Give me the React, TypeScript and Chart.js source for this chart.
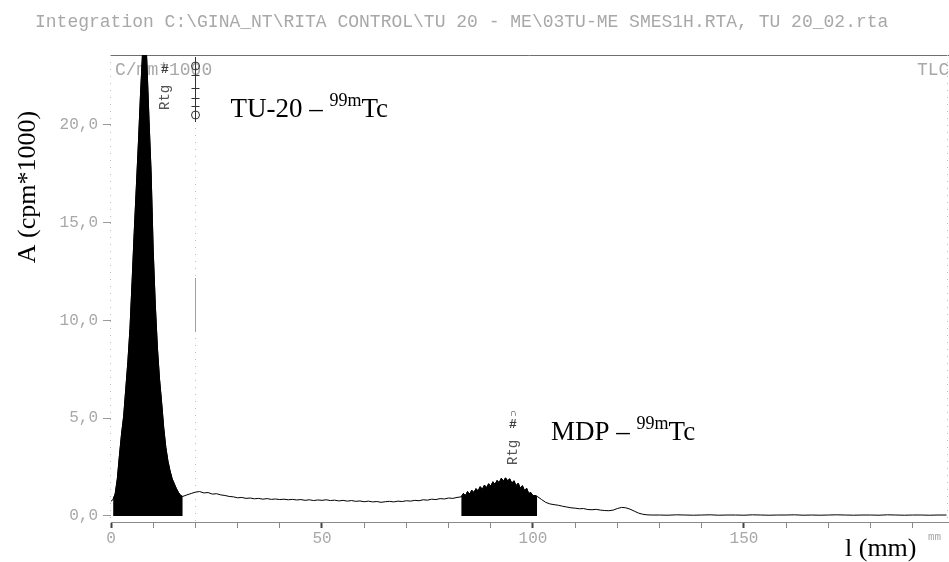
import React, { useEffect, useRef } from "react";
import { Chart, registerables } from "chart.js";

Chart.register(...registerables);

// Radio-TLC scan, counts in cpm*1000 along the plate (mm)
const range = (start: number, end: number, step: number) =>
  Array.from({ length: Math.round((end - start) / step) + 1 }, (_, i) => +(start + i * step).toFixed(2));

const startPeakMm = range(0, 17, 0.5);
const startPeakCounts = [
  0.75, 0.85, 1.15, 1.9, 3.1, 4.2, 5.1, 6.5, 7.9, 9.6,
  12.0, 14.5, 16.8, 19.1, 21.6, 23.8, 25.5, 23.2, 20.3, 17.6,
  13.6, 10.8, 8.6, 7.0, 5.8, 4.5, 3.5, 2.8, 2.3, 1.9,
  1.65, 1.4, 1.2, 1.05, 1.0,
];

const plateauMm = range(18, 82, 1);
const plateauCounts = [
  1.08, 1.15, 1.22, 1.25, 1.18, 1.2, 1.12, 1.14, 1.08, 1.05,
  1.0, 0.98, 0.93, 0.95, 0.9, 0.92, 0.88, 0.9, 0.86, 0.89,
  0.85, 0.87, 0.84, 0.86, 0.83, 0.85, 0.82, 0.84, 0.8, 0.83,
  0.79, 0.82, 0.8, 0.83, 0.79, 0.81, 0.77, 0.8, 0.76, 0.79,
  0.75, 0.77, 0.73, 0.76, 0.72, 0.74, 0.7, 0.73, 0.75, 0.72,
  0.76, 0.74, 0.78, 0.76, 0.8, 0.78, 0.83, 0.81, 0.86, 0.84,
  0.89, 0.87, 0.92, 0.9, 0.95,
];

const mdpPeakMm = range(83, 101, 0.5);
const mdpPeakCounts = [
  0.98, 1.15, 1.05, 1.25, 1.12, 1.32, 1.2, 1.4, 1.28, 1.5,
  1.36, 1.58, 1.45, 1.65, 1.52, 1.75, 1.62, 1.82, 1.7, 1.93,
  1.78, 1.95, 1.8, 1.9, 1.68, 1.8, 1.55, 1.68, 1.42, 1.55,
  1.3, 1.42, 1.15, 1.2, 1.03, 1.05, 1.0,
];

const tailMm = range(102, 128, 1);
const tailCounts = [
  0.85, 0.7, 0.62, 0.58, 0.55, 0.5, 0.46, 0.42, 0.4, 0.37,
  0.38, 0.33, 0.32, 0.34, 0.3, 0.28, 0.27, 0.3, 0.38, 0.44,
  0.42, 0.35, 0.25, 0.15, 0.09, 0.06, 0.05,
];

const frontMm = range(130, 198, 2);
const frontCounts = [
  0.05, 0.04, 0.06, 0.05, 0.04, 0.05, 0.06, 0.04, 0.05, 0.05,
  0.04, 0.06, 0.05, 0.04, 0.05, 0.05, 0.06, 0.04, 0.05, 0.04,
  0.05, 0.06, 0.05, 0.04, 0.05, 0.05, 0.04, 0.06, 0.05, 0.04,
  0.05, 0.05, 0.04, 0.05, 0.05,
];

// integration windows (mm) shaded under the trace
const integrationWindowsMm: [number, number][] = [
  [0.5, 17],
  [83, 101],
];

const xTickValues = range(0, 190, 10);
const xLabelValues = [0, 50, 100, 150];
const yTickValues = [0, 5, 10, 15, 20];
const xMaxMm = 198.6;
const yMin = -0.307;
const yMax = 23.58;

const headerText =
  "Integration C:\\GINA_NT\\RITA CONTROL\\TU 20 - ME\\03TU-ME SMES1H.RTA, TU 20_02.rta";
const unitText = "C/mm*1000";
const plateText = "TLC";
const yTitle = "A (cpm*1000)";
const xTitle = "l (mm)";
const xUnit = "mm";
const peakLabels = [
  { prefix: "TU-20 \u2013 ", mm: 28.3, value: 20.4 },
  { prefix: "MDP \u2013 ", mm: 104.3, value: 3.9 },
];
const isotope = "99m";
const element = "Tc";
// peak-tag marker positions (mm)
const tagMarkersMm = [12.8, 95.3];
const originMarkerMm = 20;

const MONO = '"Liberation Mono", "DejaVu Sans Mono", monospace';
const SERIF = '"Liberation Serif", "DejaVu Serif", serif';
const SCAN_GREY = "#a8a8a8";

const trace = [
  ...startPeakMm.map((x, i) => ({ x, y: startPeakCounts[i] })),
  ...plateauMm.map((x, i) => ({ x, y: plateauCounts[i] })),
  ...mdpPeakMm.map((x, i) => ({ x, y: mdpPeakCounts[i] })),
  ...tailMm.map((x, i) => ({ x, y: tailCounts[i] })),
  ...frontMm.map((x, i) => ({ x, y: frontCounts[i] })),
];

const vline = (ctx: CanvasRenderingContext2D, x: number, y0: number, y1: number) => {
  ctx.beginPath();
  ctx.moveTo(x, y0);
  ctx.lineTo(x, y1);
  ctx.stroke();
};

const annotations = {
  id: "annotations",
  beforeDatasetsDraw(chart: any) {
    const { ctx, chartArea: a, scales } = chart;
    const x = scales.x;
    ctx.save();
    ctx.strokeStyle = "#6f6f6f";
    ctx.lineWidth = 1;
    ctx.beginPath();
    ctx.moveTo(a.left - 1, a.top + 0.5);
    ctx.lineTo(a.right, a.top + 0.5);
    ctx.stroke();

    ctx.strokeStyle = "#bcbcbc";
    ctx.setLineDash([1, 6]);
    vline(ctx, a.left - 0.5, a.top, a.bottom);
    vline(ctx, a.right - 1.5, a.top, a.bottom);
    const ox = Math.round(x.getPixelForValue(originMarkerMm)) + 0.5;
    vline(ctx, ox, 128, a.bottom);
    ctx.setLineDash([]);
    ctx.strokeStyle = "#a0a0a0";
    vline(ctx, ox, 278, 332);

    ctx.font = `18px ${MONO}`;
    ctx.fillStyle = SCAN_GREY;
    ctx.textBaseline = "middle";
    ctx.textAlign = "left";
    ctx.fillText(unitText, a.left + 4, 70);
    ctx.fillText(plateText, a.right - 32, 70);
    ctx.restore();
  },
  afterDatasetsDraw(chart: any) {
    const { ctx, scales } = chart;
    const x = scales.x;
    const y = scales.y;
    ctx.save();

    // peak tags
    const tagTops = [70, 425];
    tagMarkersMm.forEach((mm, i) => {
      const px = Math.round(x.getPixelForValue(mm));
      const top = tagTops[i];
      ctx.fillStyle = "#3c3c3c";
      ctx.font = `bold 13px ${MONO}`;
      ctx.textAlign = "center";
      ctx.textBaseline = "middle";
      ctx.fillText("#", px, top);
      if (i === 1) {
        ctx.font = `10px ${MONO}`;
        ctx.fillText("\u2229", px, top - 12);
      }
      ctx.save();
      ctx.translate(px, top + 40);
      ctx.rotate(-Math.PI / 2);
      ctx.font = `14px ${MONO}`;
      ctx.fillStyle = "#555";
      ctx.textAlign = "left";
      ctx.fillText("Rtg", 0, 0);
      ctx.restore();
    });

    // origin marker
    const ox = Math.round(x.getPixelForValue(originMarkerMm)) + 0.5;
    ctx.strokeStyle = "#333";
    ctx.lineWidth = 1;
    vline(ctx, ox, 57, 122);
    [75, 88, 98, 106].forEach((yy) => {
      ctx.beginPath();
      ctx.moveTo(ox - 4, yy + 0.5);
      ctx.lineTo(ox + 4, yy + 0.5);
      ctx.stroke();
    });
    [66, 115].forEach((yy) => {
      ctx.beginPath();
      ctx.arc(ox, yy, 4, 0, Math.PI * 2);
      ctx.stroke();
    });

    // species labels
    ctx.fillStyle = "#000";
    ctx.textAlign = "left";
    ctx.textBaseline = "alphabetic";
    peakLabels.forEach((lab) => {
      const lx = x.getPixelForValue(lab.mm);
      const ly = y.getPixelForValue(lab.value);
      ctx.font = `27px ${SERIF}`;
      ctx.fillText(lab.prefix, lx, ly);
      const w1 = ctx.measureText(lab.prefix).width;
      ctx.font = `18px ${SERIF}`;
      ctx.fillText(isotope, lx + w1, ly - 11);
      const w2 = ctx.measureText(isotope).width;
      ctx.font = `27px ${SERIF}`;
      ctx.fillText(element, lx + w1 + w2, ly);
    });
    ctx.restore();
  },
  afterDraw(chart: any) {
    const { ctx, chartArea: a } = chart;
    ctx.save();
    ctx.font = `18px ${MONO}`;
    ctx.fillStyle = SCAN_GREY;
    ctx.textBaseline = "middle";
    ctx.textAlign = "left";
    ctx.fillText(headerText, 35, 22);

    ctx.font = `11px ${MONO}`;
    ctx.fillText(xUnit, a.right - 21, 537);

    ctx.fillStyle = "#000";
    ctx.font = `26px ${SERIF}`;
    ctx.textBaseline = "alphabetic";
    ctx.fillText(xTitle, 845, 556);

    ctx.translate(35, 187);
    ctx.rotate(-Math.PI / 2);
    ctx.textAlign = "center";
    ctx.fillText(yTitle, 0, 0);
    ctx.restore();
  },
};

export default function App() {
  const canvasRef = useRef<HTMLCanvasElement>(null);

  useEffect(() => {
    if (!canvasRef.current) return;
    const regionData = integrationWindowsMm.map(([lo, hi]) =>
      trace.filter((p) => p.x >= lo && p.x <= hi)
    );
    const chart = new Chart(canvasRef.current, {
      type: "line",
      data: {
        datasets: [
          ...regionData.map((d) => ({
            data: d,
            borderColor: "#000",
            backgroundColor: "#000",
            borderWidth: 1,
            pointRadius: 0,
            fill: { value: 0 },
          })),
          {
            data: trace,
            borderColor: "#000",
            borderWidth: 1,
            pointRadius: 0,
            fill: false,
          },
        ],
      },
      options: {
        animation: false,
        responsive: false,
        devicePixelRatio: 1,
        parsing: false,
        layout: { padding: { top: 55, left: 0, right: 0, bottom: 0 } },
        plugins: {
          legend: { display: false },
          tooltip: { enabled: false },
          title: { display: false },
        },
        scales: {
          x: {
            type: "linear",
            min: 0,
            max: xMaxMm,
            afterFit: (s: any) => {
              s.height = 40;
            },
            afterBuildTicks: (s: any) => {
              s.ticks = xTickValues.map((v) => ({ value: v }));
            },
            border: { display: true, color: "#8a8a8a", width: 1 },
            grid: {
              drawOnChartArea: false,
              tickLength: 6,
              tickColor: (c: any) => (c.tick && xLabelValues.includes(c.tick.value) ? "#444" : "#888"),
              tickWidth: (c: any) => (c.tick && xLabelValues.includes(c.tick.value) ? 2 : 1),
            },
            ticks: {
              autoSkip: false,
              maxRotation: 0,
              padding: 1,
              color: SCAN_GREY,
              font: { family: MONO, size: 16 },
              callback: (v: any) => (xLabelValues.includes(Number(v)) ? String(v) : ""),
            },
          },
          y: {
            type: "linear",
            min: yMin,
            max: yMax,
            afterFit: (s: any) => {
              s.width = 111;
            },
            afterBuildTicks: (s: any) => {
              s.ticks = yTickValues.map((v) => ({ value: v }));
            },
            border: { display: false },
            grid: {
              drawOnChartArea: false,
              tickLength: 8,
              tickColor: "#999",
            },
            ticks: {
              padding: 5,
              color: SCAN_GREY,
              font: { family: MONO, size: 16 },
              callback: (v: any) => Number(v).toFixed(1).replace(".", ","),
            },
          },
        },
      },
      plugins: [annotations],
    } as any);
    return () => chart.destroy();
  }, []);

  return (
    <div style={{ position: "absolute", left: 0, top: 0, width: 949, height: 562, background: "#fff" }}>
      <canvas ref={canvasRef} width={949} height={562} />
    </div>
  );
}
